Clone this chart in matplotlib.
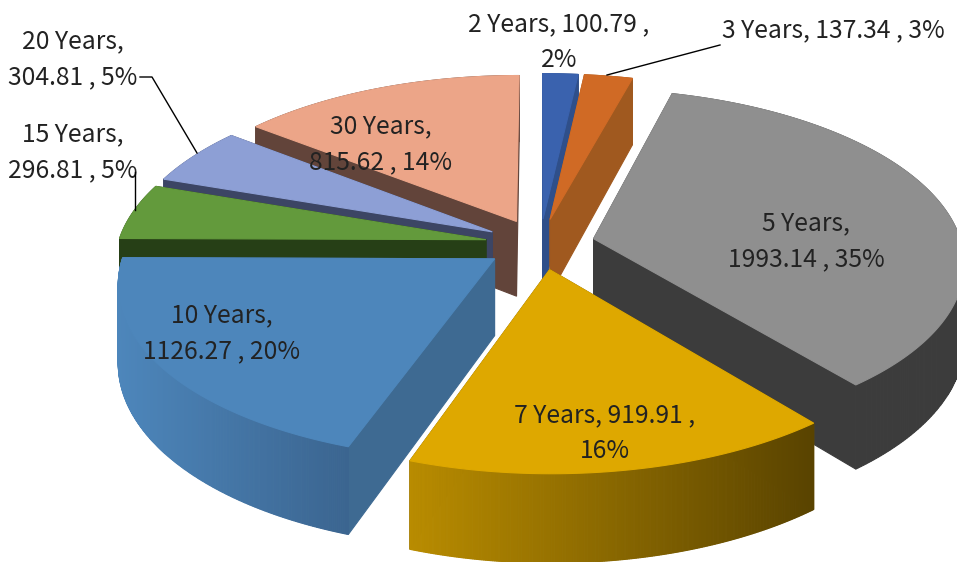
import numpy as np
import matplotlib
matplotlib.use("Agg")
import matplotlib.pyplot as plt
from matplotlib.colors import to_rgb

plt.rcParams["font.family"] = ["Noto Sans CJK SC", "DejaVu Sans"]

# slices run clockwise from 12 o'clock
tenors = ["2 Years", "3 Years", "5 Years", "7 Years", "10 Years", "15 Years", "20 Years", "30 Years"]
amounts = [100.79, 137.34, 1993.14, 919.91, 1126.27, 296.81, 304.81, 815.62]
pct_labels = ["2%", "3%", "35%", "16%", "20%", "5%", "5%", "14%"]

top_colors = ["#3a62ae", "#d06a25", "#8f8f8f", "#dea800", "#4d86bb", "#639a3c", "#8d9fd5", "#eca588"]
side_colors = ["#2f4f8a", "#a0591f", "#3c3c3c", "#6a5000", "#3e6a92", "#263f16", "#3c4564", "#62443a"]
wall_left = ["#2f4f8a", "#a0591f", "#3c3c3c", "#b98c00", "#4d86bb", "#263f16", "#3c4564", "#62443a"]
wall_right = ["#2f4f8a", "#a0591f", "#3c3c3c", "#594300", "#3b6590", "#263f16", "#3c4564", "#62443a"]

# fake 3d camera, all in image pixels
CX, CY = 540, 244
RADIUS = 368
SQUASH = 0.463
PERSP = 0.13
DEPTH = 76
EXPLODE = 55
STEPS = 240


def project(u, v, drop=0.0):
    s = 1 / (1 + PERSP * v)
    return CX + RADIUS * u * s, CY - RADIUS * SQUASH * v * s + drop * s


def blend(a, b, t):
    a, b = np.array(to_rgb(a)), np.array(to_rgb(b))
    return tuple(a + (b - a) * t)


def draw_poly(ax, xs, ys, color, z):
    ax.fill(xs, ys, color=color, lw=0.8, zorder=z)


def draw_slice(ax, start, end, i, z):
    mid = (start + end) / 2
    ou = EXPLODE / RADIUS * np.sin(mid)
    ov = EXPLODE / RADIUS * np.cos(mid)
    th = np.linspace(start, end, STEPS)
    u = ou + np.sin(th)
    v = ov + np.cos(th)

    # walls behind the slice first
    x0, y0 = project(u, v)
    x1, y1 = project(u, v, DEPTH)
    back = np.cos(th) > 0
    if back.any():
        draw_poly(ax, np.r_[x0[back], x1[back][::-1]], np.r_[y0[back], y1[back][::-1]],
                  side_colors[i], z)

    # the two cut faces
    for edge in (start, end):
        eu = np.array([ou, ou + np.sin(edge)])
        ev = np.array([ov, ov + np.cos(edge)])
        ax_, ay_ = project(eu, ev)
        bx_, by_ = project(eu, ev, DEPTH)
        draw_poly(ax, [ax_[0], ax_[1], bx_[1], bx_[0]],
                  [ay_[0], ay_[1], by_[1], by_[0]], side_colors[i], z + 0.1)

    # front wall, shaded left to right
    for j in range(len(th) - 1):
        if np.cos(th[j]) <= 0:
            t = (x0[j] - x0.min()) / max(x0.max() - x0.min(), 1)
            draw_poly(ax, [x0[j], x0[j + 1], x1[j + 1], x1[j]],
                      [y0[j], y0[j + 1], y1[j + 1], y1[j]],
                      blend(wall_left[i], wall_right[i], t), z + 0.2)

    # top
    tx, ty = project(np.r_[ou, u], np.r_[ov, v])
    draw_poly(ax, tx, ty, top_colors[i], z + 0.3)


fig = plt.figure(figsize=(9.57, 5.62), dpi=100)
ax = fig.add_axes([0, 0, 1, 1])
ax.set_xlim(0, 957)
ax.set_ylim(562, 0)
ax.axis("off")

angles = np.r_[0, np.cumsum(amounts)] / np.sum(amounts) * 2 * np.pi
paint_order = [7, 6, 5, 0, 1, 2, 4, 3]
for z, i in enumerate(paint_order):
    draw_slice(ax, angles[i], angles[i + 1], i, z + 1)

# data labels
FS = 17.8
label_spots = [
    (559, 42), (833, 30), (806, 241), (605, 433),
    (222, 333), (73, 152), (73, 59), (381, 144),
]
label_breaks = [
    "{0}, {1} ,\n{2}", "{0}, {1} , {2}", "{0},\n{1} , {2}", "{0}, {1} ,\n{2}",
    "{0},\n{1} , {2}", "{0},\n{1} , {2}", "{0},\n{1} , {2}", "{0},\n{1} , {2}",
]
for i, (x, y) in enumerate(label_spots):
    text = label_breaks[i].format(tenors[i], f"{amounts[i]:.2f}", pct_labels[i])
    ax.text(x, y, text, ha="center", va="center", fontsize=FS, color="#222222",
            fontweight="light", linespacing=1.52, zorder=30)

# leader lines
ax.plot([607, 720], [75, 45], color="black", lw=1, zorder=31)
ax.plot([140, 152, 197], [77, 77, 153], color="black", lw=1, zorder=31)
ax.plot([135, 135], [172, 210], color="black", lw=1, zorder=31)

fig.savefig("out.png", dpi=100)
